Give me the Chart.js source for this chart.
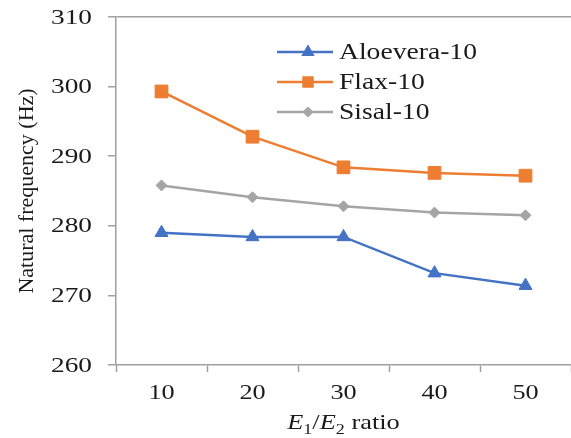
<!DOCTYPE html>
<html><head><meta charset="utf-8">
<script src="https://cdn.jsdelivr.net/npm/chart.js@4/dist/chart.umd.min.js"></script>
<style>html,body{margin:0;padding:0;background:#fff;}#wrap{width:571px;height:438px;}</style>
</head><body><div id="wrap"><canvas id="c" width="571" height="438"></canvas></div>
<script>
const categories = ['10', '20', '30', '40', '50'];
const aloevera = [279.0, 278.4, 278.4, 273.2, 271.4];
const flax = [299.3, 292.8, 288.4, 287.6, 287.2];
const sisal = [285.8, 284.1, 282.8, 281.9, 281.5];
const seriesNames = ['Aloevera-10', 'Flax-10', 'Sisal-10'];
const yTicks = [260, 270, 280, 290, 300, 310];
const yTitle = 'Natural frequency (Hz)';

const SERIF = '"Liberation Serif", "Times New Roman", serif';
const AXIS = '#a0a0a0';
const TXT = '#1a1a1a';

function textS(ctx, t, x, y, align, sx) {
  ctx.save();
  ctx.translate(x, y);
  ctx.scale(sx, 1);
  ctx.textAlign = align;
  ctx.fillText(t, 0, 0);
  ctx.restore();
}

const textPlugin = {
  id: 'texts',
  afterDraw(chart) {
    const ctx = chart.ctx;
    const area = chart.chartArea;
    const xs = chart.scales.x, ys = chart.scales.y;
    ctx.save();
    ctx.fillStyle = TXT;
    // y tick labels
    ctx.font = '21px ' + SERIF;
    ctx.textBaseline = 'middle';
    yTicks.forEach(v => textS(ctx, String(v), area.left - 24, ys.getPixelForValue(v) + 1, 'right', 1.3));
    // x tick labels
    categories.forEach((c, i) => textS(ctx, c, xs.getPixelForTick(i), area.bottom + 28, 'center', 1.25));
    // y title
    ctx.save();
    ctx.translate(27, (area.top + area.bottom) / 2);
    ctx.rotate(-Math.PI / 2);
    ctx.font = '22px ' + SERIF;
    ctx.textAlign = 'center';
    ctx.textBaseline = 'middle';
    ctx.fillText(yTitle, 0, 0);
    ctx.restore();
    // legend
    chart.data.datasets.forEach((ds, i) => {
      const y = area.top + 35 + i * 30;
      const x0 = area.left + 161;
      ctx.strokeStyle = ds.borderColor;
      ctx.lineWidth = ds.borderWidth;
      ctx.beginPath(); ctx.moveTo(x0, y); ctx.lineTo(x0 + 56, y); ctx.stroke();
      ctx.fillStyle = ds.pointBackgroundColor;
      ctx.strokeStyle = ds.pointBorderColor;
      Chart.helpers.drawPoint(ctx, {pointStyle: ds.pointStyle, radius: ds.pointRadius * 0.7, rotation: 0, borderWidth: 1}, x0 + 31, y);
      ctx.fillStyle = TXT;
      ctx.font = '23px ' + SERIF;
      ctx.textBaseline = 'middle';
      textS(ctx, ds.label, x0 + 62, y + 1, 'left', 1.2);
    });
    // x title: E1/E2 ratio
    const sx = 1.2;
    const parts = [
      {t: 'E', f: 'italic 22px ' + SERIF, dy: 0},
      {t: '1', f: '15px ' + SERIF, dy: 5},
      {t: '/', f: '22px ' + SERIF, dy: 0},
      {t: 'E', f: 'italic 22px ' + SERIF, dy: 0},
      {t: '2', f: '15px ' + SERIF, dy: 5},
      {t: ' ratio', f: '22px ' + SERIF, dy: 0}
    ];
    let w = 0;
    parts.forEach(p => { ctx.font = p.f; p.w = ctx.measureText(p.t).width * sx; w += p.w; });
    let x = (xs.left + xs.right) / 2 - w / 2;
    const base = area.bottom + 64;
    ctx.fillStyle = TXT;
    ctx.textBaseline = 'alphabetic';
    parts.forEach(p => { ctx.font = p.f; textS(ctx, p.t, x, base + p.dy, 'left', sx); x += p.w; });
    ctx.restore();
  }
};

const ds = (label, data, color, style, r) => ({
  label, data,
  borderColor: color, backgroundColor: color,
  pointBackgroundColor: color, pointBorderColor: color,
  borderWidth: 2.5, pointStyle: style, pointRadius: r, pointHoverRadius: r,
  pointBorderWidth: 1, tension: 0, fill: false
});

new Chart(document.getElementById('c'), {
  type: 'line',
  data: {
    labels: categories,
    datasets: [
      ds(seriesNames[0], aloevera, '#4472C4', 'triangle', 7.5),
      ds(seriesNames[1], flax, '#ED7D31', 'rect', 9),
      ds(seriesNames[2], sisal, '#A5A5A5', 'rectRot', 5.5)
    ]
  },
  options: {
    responsive: false,
    animation: false,
    layout: {autoPadding: false, padding: {top: 17, right: 0, left: 0, bottom: 0}},
    plugins: {legend: {display: false}, tooltip: {enabled: false}},
    scales: {
      x: {
        type: 'category', offset: true,
        grid: {offset: true, drawOnChartArea: false, color: AXIS, tickLength: 7, tickWidth: 1.5},
        border: {color: AXIS, width: 1.5},
        ticks: {display: false},
        afterFit(s) { s.height = 73; s.paddingLeft = 0; s.paddingRight = 0; }
      },
      y: {
        min: 260, max: 310,
        afterBuildTicks(s) { s.ticks = yTicks.map(v => ({value: v})); },
        grid: {color: c => (c.tick && c.tick.value === 310) ? AXIS : 'transparent', lineWidth: 1.5,
               tickColor: AXIS, tickLength: 8, tickWidth: 1.5},
        border: {color: AXIS, width: 1.5},
        ticks: {display: false},
        afterFit(s) { s.width = 116; s.paddingTop = 0; s.paddingBottom = 0; }
      }
    }
  },
  plugins: [textPlugin]
});
</script></body></html>
